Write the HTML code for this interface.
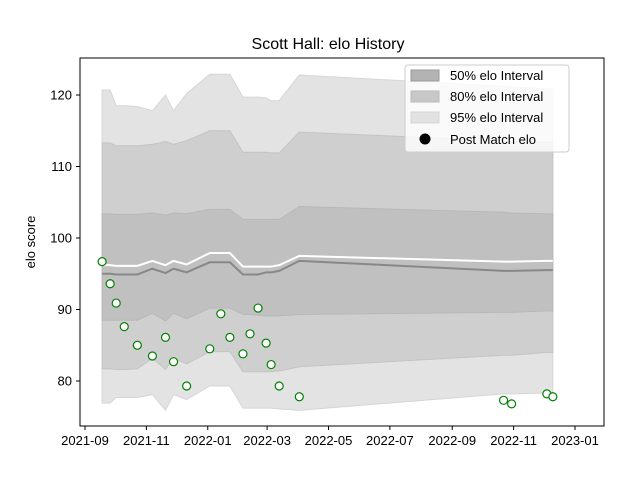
<!DOCTYPE html>
<html><head><meta charset="utf-8"><style>
body{margin:0;background:#fff;}
svg text{font-family:"Liberation Sans","DejaVu Sans",sans-serif;}
</style></head><body>
<svg id="chart" width="640" height="480" viewBox="0 0 640 480" xmlns="http://www.w3.org/2000/svg">
<rect width="640" height="480" fill="#fff"/>
<text x="328" y="49" font-size="16" text-anchor="middle">Scott Hall: elo History</text>
<text transform="translate(35,242) rotate(-90)" font-size="13" text-anchor="middle">elo score</text>
<g id="bands"></g><g id="lines"></g><g id="points"></g>
<rect x="80" y="58" width="524" height="368" fill="none" stroke="#000" stroke-width="1"/>
<g id="axes"></g>
<g>
<rect x="405" y="65" width="164" height="87" rx="3" fill="#fff" fill-opacity="0.8" stroke="#ccc"/>
<rect x="411" y="70" width="28" height="11" fill="#b3b3b3" stroke="#999"/>
<text x="450" y="80" font-size="13">50% elo Interval</text>
<rect x="411" y="91" width="28" height="11" fill="#c8c8c8" stroke="#bbb"/>
<text x="450" y="101" font-size="13">80% elo Interval</text>
<rect x="411" y="112" width="28" height="11" fill="#e2e2e2" stroke="#d5d5d5"/>
<text x="450" y="122" font-size="13">95% elo Interval</text>
<circle cx="425" cy="139" r="5.5" fill="#000"/>
<text x="450" y="144" font-size="13">Post Match elo</text>
</g>
</svg>
<script>
const dates=["2021-09-18","2021-09-26","2021-10-02","2021-10-10","2021-10-23","2021-11-07","2021-11-20","2021-11-28","2021-12-11","2022-01-03","2022-01-14","2022-01-23","2022-02-05","2022-02-12","2022-02-20","2022-02-28","2022-03-05","2022-03-13","2022-04-02","2022-10-22","2022-10-30","2022-12-04","2022-12-10"];
const postElo=[96.7,93.6,90.9,87.6,85.0,83.5,86.1,82.7,79.3,84.5,89.4,86.1,83.8,86.6,90.2,85.3,82.3,79.3,77.8,77.3,76.8,78.2,77.8];
const hi95=[120.7,120.7,118.5,118.5,118.4,117.8,120.0,117.8,120.2,122.9,122.9,122.9,119.7,119.7,119.7,119.6,119.2,119.2,122.8,121.2,121.1,120.9,120.8];
const hi80=[113.3,113.3,112.9,112.9,112.9,113.1,113.5,113.1,113.6,115.0,115.0,115.0,112.0,112.0,112.0,112.0,111.9,111.9,114.8,113.6,113.5,113.4,113.4];
const hi50=[103.4,103.4,103.3,103.3,103.3,103.5,103.2,103.5,103.4,104.0,104.0,104.0,102.6,102.6,102.6,102.6,102.6,102.6,104.4,103.6,103.5,103.4,103.4];
const meanElo=[95.0,95.0,94.9,94.9,94.9,95.7,95.1,95.7,95.2,96.6,96.6,96.6,94.9,94.9,94.9,95.2,95.2,95.4,96.8,95.4,95.4,95.5,95.5];
const upperLine=[96.2,96.2,96.1,96.1,96.1,96.8,96.2,96.8,96.3,97.9,97.9,97.9,96.0,96.0,96.0,96.0,96.0,96.2,97.5,96.7,96.7,96.8,96.8];
const lo50=[88.5,88.5,88.5,88.5,88.5,89.5,88.4,89.5,88.7,90.2,90.2,90.2,89.3,89.3,89.2,89.1,89.1,89.1,89.3,89.6,89.6,89.8,89.8];
const lo80=[81.7,81.7,81.6,81.6,81.7,83.2,81.6,83.2,82.4,84.1,84.1,84.1,81.3,81.3,81.3,81.3,81.3,81.4,82.0,83.6,83.6,84.0,84.0];
const lo95=[76.9,76.9,77.7,77.7,77.7,78.1,75.9,78.1,77.4,79.3,79.3,79.3,76.2,76.2,76.2,76.2,76.2,76.1,75.9,78.2,78.2,78.3,78.3];
const yTicks=[80,90,100,110,120];
const xTicks=["2021-09","2021-11","2022-01","2022-03","2022-05","2022-07","2022-09","2022-11","2023-01"];

const NS="http://www.w3.org/2000/svg";
const t0=Date.UTC(2021,8,1), t1=Date.UTC(2023,0,1);
function xs(d){const p=d.split("-").map(Number);const t=Date.UTC(p[0],p[1]-1,p[2]||1);return 85+(t-t0)/(t1-t0)*490;}
function ys(v){return 238-(v-100)*7.15;}
function mk(tag,parent,attrs){const e=document.createElementNS(NS,tag);for(const k in attrs)e.setAttribute(k,attrs[k]);document.getElementById(parent).appendChild(e);return e;}
function band(lo,hi){let d="";dates.forEach((dt,i)=>{d+=(i?"L":"M")+xs(dt)+","+ys(hi[i]);});for(let i=dates.length-1;i>=0;i--)d+="L"+xs(dates[i])+","+ys(lo[i]);return d+"Z";}
let e=mk("path","bands",{d:band(lo95,hi95),fill:"#e3e3e3",stroke:"#d6d6d6"});


e=mk("path","bands",{d:band(lo80,hi80),fill:"#cfcfcf",stroke:"#c4c4c4"});


e=mk("path","bands",{d:band(lo50,hi50),fill:"#c0c0c0",stroke:"#b8b8b8"});


function line(arr){return dates.map((dt,i)=>(i?"L":"M")+xs(dt)+","+ys(arr[i])).join("");}
e=mk("path","lines",{d:line(meanElo),fill:"none",stroke:"#888","stroke-width":2});


e=mk("path","lines",{d:line(upperLine),fill:"none",stroke:"#fff","stroke-width":2});


dates.forEach((dt,i)=>{
 const c=mk("circle","points",{cx:xs(dt),cy:ys(postElo[i]),r:4,fill:"#fff",stroke:"#008000","stroke-width":1.2});
 
 
});
yTicks.forEach(v=>{
 mk("line","axes",{x1:76,x2:80,y1:ys(v),y2:ys(v),stroke:"#000"});
 const t=mk("text","axes",{x:72,y:ys(v)+4.5,"font-size":13,"text-anchor":"end"});
 t.textContent=v;
 
 
});
xTicks.forEach(s=>{
 const x=xs(s);
 mk("line","axes",{x1:x,x2:x,y1:426,y2:430,stroke:"#000"});
 const t=mk("text","axes",{x:x,y:445,"font-size":13,"text-anchor":"middle"});
 t.textContent=s;
 
 
});
</script>
</body></html>
